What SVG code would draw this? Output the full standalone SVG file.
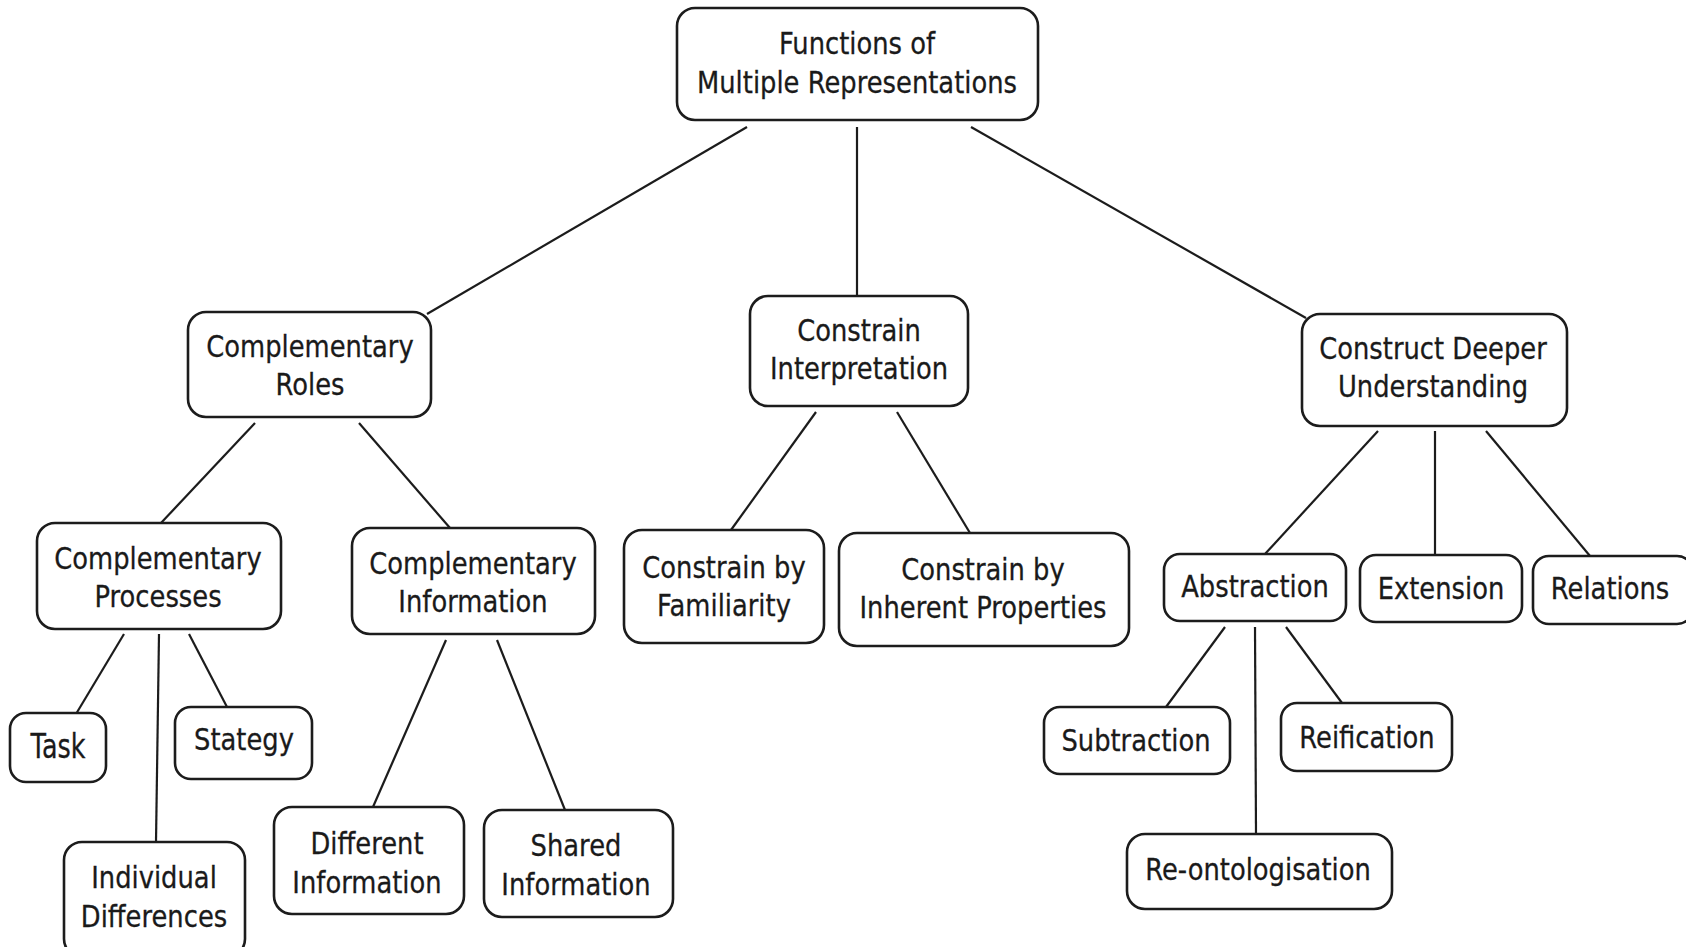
<svg xmlns="http://www.w3.org/2000/svg" width="1686" height="947" viewBox="0 0 1686 947">
<style>
.b{fill:#fff;stroke:#1c1c1c;stroke-width:2.6}
.t{font-family:"DejaVu Sans","Verdana",sans-serif;font-size:30px;fill:#1a1a1a;stroke:#1a1a1a;stroke-width:0.3;text-anchor:middle}
.c line{stroke:#1c1c1c;stroke-width:2.2}
</style>
<rect width="1686" height="947" fill="#fff"/>
<g class="c" id="connectors">
<line x1="747" y1="127" x2="427" y2="314"/>
<line x1="857" y1="127" x2="857" y2="296"/>
<line x1="971" y1="127" x2="1306" y2="318"/>
<line x1="255" y1="423" x2="161" y2="523"/>
<line x1="359" y1="423" x2="450" y2="528"/>
<line x1="124" y1="634" x2="76" y2="714"/>
<line x1="159" y1="634" x2="156" y2="842"/>
<line x1="189" y1="634" x2="227" y2="707"/>
<line x1="446" y1="640" x2="373" y2="807"/>
<line x1="497" y1="640" x2="565" y2="810"/>
<line x1="816" y1="412" x2="731" y2="530"/>
<line x1="897" y1="412" x2="970" y2="533"/>
<line x1="1378" y1="431" x2="1265" y2="554"/>
<line x1="1435" y1="431" x2="1435" y2="555"/>
<line x1="1486" y1="431" x2="1590" y2="556"/>
<line x1="1225" y1="627" x2="1166" y2="707"/>
<line x1="1255" y1="627" x2="1256" y2="834"/>
<line x1="1286" y1="627" x2="1342" y2="703"/>
</g>
<g id="n-root"><rect class="b" x="677" y="8" width="361" height="112" rx="18"/>
<text class="t" transform="translate(857,0) scale(0.86,1)" y="54">Functions of</text>
<text class="t" transform="translate(857,0) scale(0.86,1)" y="93">Multiple Representations</text></g>
<g id="n-roles"><rect class="b" x="188" y="312" width="243" height="105" rx="18"/>
<text class="t" transform="translate(310,0) scale(0.86,1)" y="357">Complementary</text>
<text class="t" transform="translate(310,0) scale(0.86,1)" y="395">Roles</text></g>
<g id="n-interp"><rect class="b" x="750" y="296" width="218" height="110" rx="18"/>
<text class="t" transform="translate(859,0) scale(0.86,1)" y="341">Constrain</text>
<text class="t" transform="translate(859,0) scale(0.86,1)" y="379">Interpretation</text></g>
<g id="n-deeper"><rect class="b" x="1302" y="314" width="265" height="112" rx="18"/>
<text class="t" transform="translate(1433,0) scale(0.86,1)" y="359">Construct Deeper</text>
<text class="t" transform="translate(1433,0) scale(0.86,1)" y="397">Understanding</text></g>
<g id="n-proc"><rect class="b" x="37" y="523" width="244" height="106" rx="18"/>
<text class="t" transform="translate(158,0) scale(0.86,1)" y="569">Complementary</text>
<text class="t" transform="translate(158,0) scale(0.86,1)" y="607">Processes</text></g>
<g id="n-info"><rect class="b" x="352" y="528" width="243" height="106" rx="18"/>
<text class="t" transform="translate(473,0) scale(0.86,1)" y="574">Complementary</text>
<text class="t" transform="translate(473,0) scale(0.86,1)" y="612.5">Information</text></g>
<g id="n-fam"><rect class="b" x="624" y="530" width="200" height="113" rx="18"/>
<text class="t" transform="translate(724,0) scale(0.86,1)" y="578">Constrain by</text>
<text class="t" transform="translate(724,0) scale(0.86,1)" y="616">Familiarity</text></g>
<g id="n-inh"><rect class="b" x="839" y="533" width="290" height="113" rx="18"/>
<text class="t" transform="translate(983,0) scale(0.86,1)" y="580">Constrain by</text>
<text class="t" transform="translate(983,0) scale(0.86,1)" y="618.5">Inherent Properties</text></g>
<g id="n-abs"><rect class="b" x="1164" y="554" width="182" height="67" rx="16"/>
<text class="t" transform="translate(1255,0) scale(0.86,1)" y="597.5">Abstraction</text></g>
<g id="n-ext"><rect class="b" x="1360" y="555" width="162" height="67" rx="16"/>
<text class="t" transform="translate(1441,0) scale(0.86,1)" y="599.5">Extension</text></g>
<g id="n-rel"><rect class="b" x="1533" y="556" width="160" height="68" rx="16"/>
<text class="t" transform="translate(1610,0) scale(0.86,1)" y="599.5">Relations</text></g>
<g id="n-task"><rect class="b" x="10" y="713" width="96" height="69" rx="16"/>
<text class="t" transform="translate(58,0) scale(0.77,1)" y="758.5" style="font-size:33px">Task</text></g>
<g id="n-strat"><rect class="b" x="175" y="707" width="137" height="72" rx="16"/>
<text class="t" transform="translate(244,0) scale(0.86,1)" y="750.5">Stategy</text></g>
<g id="n-indiv"><rect class="b" x="64" y="842" width="181" height="115" rx="18"/>
<text class="t" transform="translate(154,0) scale(0.86,1)" y="888.5">Individual</text>
<text class="t" transform="translate(154,0) scale(0.86,1)" y="927">Differences</text></g>
<g id="n-diff"><rect class="b" x="274" y="807" width="190" height="107" rx="18"/>
<text class="t" transform="translate(367,0) scale(0.86,1)" y="854">Different</text>
<text class="t" transform="translate(367,0) scale(0.86,1)" y="893">Information</text></g>
<g id="n-shared"><rect class="b" x="484" y="810" width="189" height="107" rx="18"/>
<text class="t" transform="translate(576,0) scale(0.86,1)" y="856">Shared</text>
<text class="t" transform="translate(576,0) scale(0.86,1)" y="895">Information</text></g>
<g id="n-sub"><rect class="b" x="1044" y="707" width="186" height="67" rx="16"/>
<text class="t" transform="translate(1136,0) scale(0.86,1)" y="751">Subtraction</text></g>
<g id="n-reif"><rect class="b" x="1281" y="703" width="171" height="68" rx="16"/>
<text class="t" transform="translate(1367,0) scale(0.86,1)" y="748.5">Reification</text></g>
<g id="n-reont"><rect class="b" x="1127" y="834" width="265" height="75" rx="18"/>
<text class="t" transform="translate(1258,0) scale(0.86,1)" y="880">Re-ontologisation</text></g>
</svg>
